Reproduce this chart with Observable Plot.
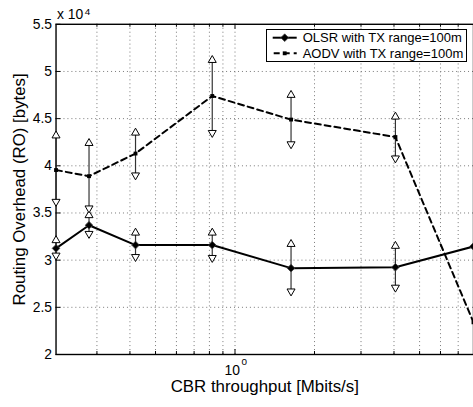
<!DOCTYPE html>
<html><head><meta charset="utf-8">
<script src="https://cdn.jsdelivr.net/npm/d3@7"></script>
<script src="https://cdn.jsdelivr.net/npm/@observablehq/plot@0.6"></script>
<style>
html,body{margin:0;padding:0;background:#fff;overflow:hidden;}
#wrap{position:relative;width:473px;height:407px;overflow:hidden;}
#legend{position:absolute;left:266px;top:29px;width:201px;height:33px;box-sizing:border-box;border:1px solid #000;background:#fff;}
</style></head><body><div id="wrap"></div>
<script>
// Data (routing overhead in bytes)
const throughput = [0.21, 0.28, 0.42, 0.82, 1.63, 4.05, 8.0];
const olsr      = [31250, 33700, 31600, 31600, 29150, 29250, 31450];
const olsrHigh  = [32100, 34750, 32900, 32900, 31700, 31500, null];
const olsrLow   = [30500, 32800, 30350, 30250, 26700, 27100, null];
const aodv      = [39550, 38900, 41300, 47400, 44900, 43050, 23400];
const aodvHigh  = [43200, 42400, 43500, 51200, 47500, 45200, null];
const aodvLow   = [36200, 35500, 39000, 43500, 42300, 40800, null];
const series = ["OLSR with TX range=100m", "AODV with TX range=100m"];
const yTicks = [20000, 25000, 30000, 35000, 40000, 45000, 50000, 55000];
const xGrid = [0.3, 0.4, 0.5, 0.6, 0.7, 0.8, 0.9, 1, 2, 3, 4, 5, 6, 7];
const xMajor = [1];
const xLabel = "CBR throughput [Mbits/s]";
const yLabel = "Routing Overhead (RO) [bytes]";

const W = 477, H = 407, mL = 56, mT = 24, mB = 50, mR = 0;
const plotH = H - mT - mB, plotW = W - mL - mR;
const font = '"Liberation Sans", Arial, Helvetica, sans-serif';

const olsrRows = throughput.map((x, i) => ({x, y: olsr[i], lo: olsrLow[i], hi: olsrHigh[i]}));
const aodvRows = throughput.map((x, i) => ({x, y: aodv[i], lo: aodvLow[i], hi: aodvHigh[i]}));
const bars = [...olsrRows, ...aodvRows].filter(d => d.hi != null);

const chart = Plot.plot({
  width: W, height: H,
  marginLeft: mL, marginRight: mR, marginTop: mT, marginBottom: mB,
  style: {fontFamily: font, background: "white", color: "black"},
  x: {type: "log", domain: [throughput[0], throughput[throughput.length - 1]], axis: null},
  y: {domain: [yTicks[0], yTicks[yTicks.length - 1]]},
  marks: [
    Plot.ruleX(xGrid, {x: d => d, stroke: "#777", strokeWidth: 1, strokeDasharray: "1,3"}),
    Plot.ruleY(yTicks.slice(1, -1), {y: d => d, stroke: "#777", strokeWidth: 1, strokeDasharray: "1,3"}),
    Plot.tickX(xGrid.filter(d => !xMajor.includes(d)), {x: d => d, insetTop: plotH - 3, stroke: "black"}),
    Plot.tickX(xGrid.filter(d => !xMajor.includes(d)), {x: d => d, insetBottom: plotH - 3, stroke: "black"}),
    Plot.tickX(xMajor, {x: d => d, insetTop: plotH - 5, stroke: "black"}),
    Plot.tickX(xMajor, {x: d => d, insetBottom: plotH - 5, stroke: "black"}),
    Plot.tickY(yTicks, {y: d => d, insetRight: plotW - 5, stroke: "black"}),
    Plot.frame({stroke: "black", strokeWidth: 1.4}),
    Plot.axisY(yTicks, {tickSize: 0, tickPadding: 4, tickFormat: d => String(d / 1e4), fontSize: 14, fontFamily: font, label: null}),
    // x tick label 10^0
    Plot.text(xMajor, {x: d => d, frameAnchor: "bottom", text: () => "10", textAnchor: "end", lineAnchor: "bottom", dx: 5, dy: 21, fontSize: 14, fontFamily: font}),
    Plot.text(xMajor, {x: d => d, frameAnchor: "bottom", text: () => "0", textAnchor: "start", lineAnchor: "bottom", dx: 6.5, dy: 11, fontSize: 10, fontFamily: font}),
    // exponent label
    Plot.text(["x 10"], {frameAnchor: "top-left", text: d => d, textAnchor: "start", lineAnchor: "bottom", dx: 1, dy: -5, fontSize: 14, fontFamily: font}),
    Plot.text(["4"], {frameAnchor: "top-left", text: d => d, textAnchor: "start", lineAnchor: "bottom", dx: 29, dy: -9, fontSize: 10, fontFamily: font}),
    // axis labels
    Plot.text([xLabel], {frameAnchor: "bottom", text: d => d, textAnchor: "middle", lineAnchor: "bottom", dy: 38, fontSize: 17, fontFamily: font}),
    Plot.text([yLabel], {frameAnchor: "left", text: d => d, rotate: -90, textAnchor: "middle", lineAnchor: "bottom", dx: -31, fontSize: 17, fontFamily: font}),
    // error bars
    Plot.ruleX(bars, {x: "x", y1: "lo", y2: "hi", stroke: "#333", strokeWidth: 1.2}),
    // lines
    Plot.line(olsrRows, {x: "x", y: "y", stroke: "black", strokeWidth: 2}),
    Plot.line(aodvRows, {x: "x", y: "y", stroke: "black", strokeWidth: 2, strokeDasharray: "6,4"}),
    Plot.dot(bars, {x: "x", y: "hi", symbol: "triangle", r: 3, fill: "white", stroke: "black", strokeWidth: 1}),
    Plot.dot(bars, {x: "x", y: "lo", symbol: "triangle", rotate: 180, r: 3, fill: "white", stroke: "black", strokeWidth: 1}),
    Plot.dot(olsrRows, {x: "x", y: "y", symbol: "diamond2", r: 3.5, fill: "black", stroke: "#444", strokeWidth: 0.8}),
    Plot.dot(aodvRows, {x: "x", y: "y", symbol: "square", r: 2.2, fill: "black"})
  ]
});

const wrap = document.getElementById("wrap");
wrap.appendChild(chart);

// legend
const leg = document.createElement("div");
leg.id = "legend";
const lsvg = d3.create("svg").attr("width", 199).attr("height", 31).style("display", "block");
const rowsY = [7.7, 23.3];
lsvg.append("line").attr("x1", 5.7).attr("x2", 29.7).attr("y1", rowsY[0]).attr("y2", rowsY[0]).attr("stroke", "black").attr("stroke-width", 2);
lsvg.append("path").attr("d", d3.symbol(d3.symbolDiamond2, 38)()).attr("transform", `translate(17.7,${rowsY[0]})`).attr("fill", "black").attr("stroke", "#444").attr("stroke-width", 0.8);
lsvg.append("line").attr("x1", 5.7).attr("x2", 29.7).attr("y1", rowsY[1]).attr("y2", rowsY[1]).attr("stroke", "black").attr("stroke-width", 2).attr("stroke-dasharray", "6,4").attr("stroke-dashoffset", -1);
lsvg.append("path").attr("d", d3.symbol(d3.symbolSquare, 15)()).attr("transform", `translate(17.7,${rowsY[1]})`).attr("fill", "black");
series.forEach((s, i) => {
  lsvg.append("text").attr("x", 35.7).attr("y", rowsY[i] + 4.6).attr("font-family", font).attr("font-size", 13).attr("fill", "black").text(s);
});
leg.appendChild(lsvg.node());
wrap.appendChild(leg);
</script>
</body></html>
